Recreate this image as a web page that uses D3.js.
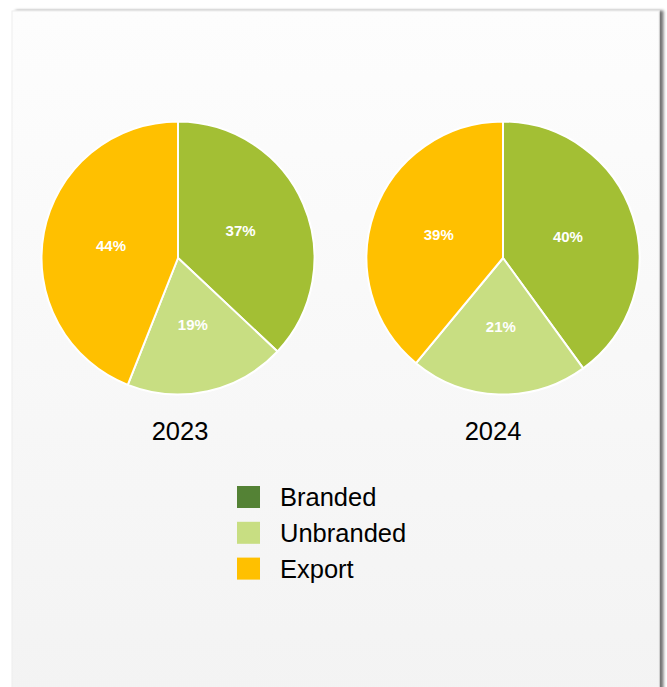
<!DOCTYPE html>
<html>
<head>
<meta charset="utf-8">
<script src="https://cdn.jsdelivr.net/npm/d3@7/dist/d3.min.js"></script>
<style>
  html, body { margin: 0; padding: 0; background: #ffffff; }
  svg { display: block; font-family: "Liberation Sans", Arial, sans-serif; }
</style>
</head>
<body>
<svg id="chart" width="667" height="687"></svg>
<script>
// Market split by channel, share of volume (%)
const categories = ["Branded", "Unbranded", "Export"];
const years = ["2023", "2024"];
const values2023 = [37, 19, 44];
const values2024 = [40, 21, 39];

const sliceColors = ["#a3bf34", "#c8de82", "#ffc000"];
const legendColors = ["#548235", "#c8de82", "#ffc000"];

const svg = d3.select("#chart");
const defs = svg.append("defs");

const bg = defs.append("linearGradient").attr("id", "panelBg")
  .attr("x1", 0).attr("y1", 0).attr("x2", 0).attr("y2", 1);
bg.append("stop").attr("offset", "0%").attr("stop-color", "#fdfdfd");
bg.append("stop").attr("offset", "100%").attr("stop-color", "#f3f3f3");

const shadow = defs.append("filter").attr("id", "panelShadow")
  .attr("x", "-5%").attr("y", "-5%").attr("width", "115%").attr("height", "115%");
shadow.append("feGaussianBlur").attr("in", "SourceAlpha").attr("stdDeviation", 1.5).attr("result", "b");
shadow.append("feOffset").attr("in", "b").attr("dx", 4).attr("dy", 0).attr("result", "o");
shadow.append("feComponentTransfer").attr("in", "o").attr("result", "s")
  .append("feFuncA").attr("type", "linear").attr("slope", 0.55);
const merge = shadow.append("feMerge");
merge.append("feMergeNode").attr("in", "s");
merge.append("feMergeNode").attr("in", "SourceGraphic");

// panel
svg.append("rect")
  .attr("x", 12).attr("y", 11).attr("width", 647).attr("height", 690)
  .attr("fill", "url(#panelBg)")
  .attr("stroke", "#eeeeee").attr("stroke-width", 1)
  .attr("filter", "url(#panelShadow)");

const radius = 136.5;
const cx = d3.scaleOrdinal().domain(years).range([178, 503]);
const titleX = d3.scaleOrdinal().domain(years).range([180, 493]);
const cy = 258;

const pie = d3.pie().sort(null).value(d => d.value);
const arc = d3.arc().innerRadius(0).outerRadius(radius);
const labelArc = d3.arc().innerRadius(radius * 0.5).outerRadius(radius * 0.5);

[values2023, values2024].forEach((vals, i) => {
  const data = categories.map((c, k) => ({ cat: c, value: vals[k], color: sliceColors[k] }));
  const g = svg.append("g").attr("transform", `translate(${cx(years[i])},${cy})`);
  const arcs = pie(data);
  g.selectAll("path").data(arcs).join("path")
    .attr("d", arc)
    .attr("fill", d => d.data.color)
    .attr("stroke", "#ffffff").attr("stroke-width", 2).attr("stroke-linejoin", "round");
  g.selectAll("text.pct").data(arcs).join("text")
    .attr("class", "pct")
    .attr("transform", d => `translate(${labelArc.centroid(d)})`)
    .attr("text-anchor", "middle").attr("dy", "0.36em")
    .attr("fill", "#ffffff").attr("font-weight", "bold").attr("font-size", 15)
    .text(d => d.data.value + "%");
  svg.append("text")
    .attr("x", titleX(years[i])).attr("y", 440)
    .attr("text-anchor", "middle").attr("font-size", 25.5).attr("fill", "#000")
    .text(years[i]);
});

// legend
const legend = svg.append("g").attr("transform", "translate(237,486)");
const item = legend.selectAll("g").data(categories).join("g")
  .attr("transform", (d, i) => `translate(0,${i * 35.8})`);
item.append("rect").attr("width", 23).attr("height", 22)
  .attr("fill", (d, i) => legendColors[i]);
item.append("text").attr("x", 43).attr("y", 20)
  .attr("font-size", 25.5).attr("fill", "#000")
  .text(d => d);
</script>
</body>
</html>
